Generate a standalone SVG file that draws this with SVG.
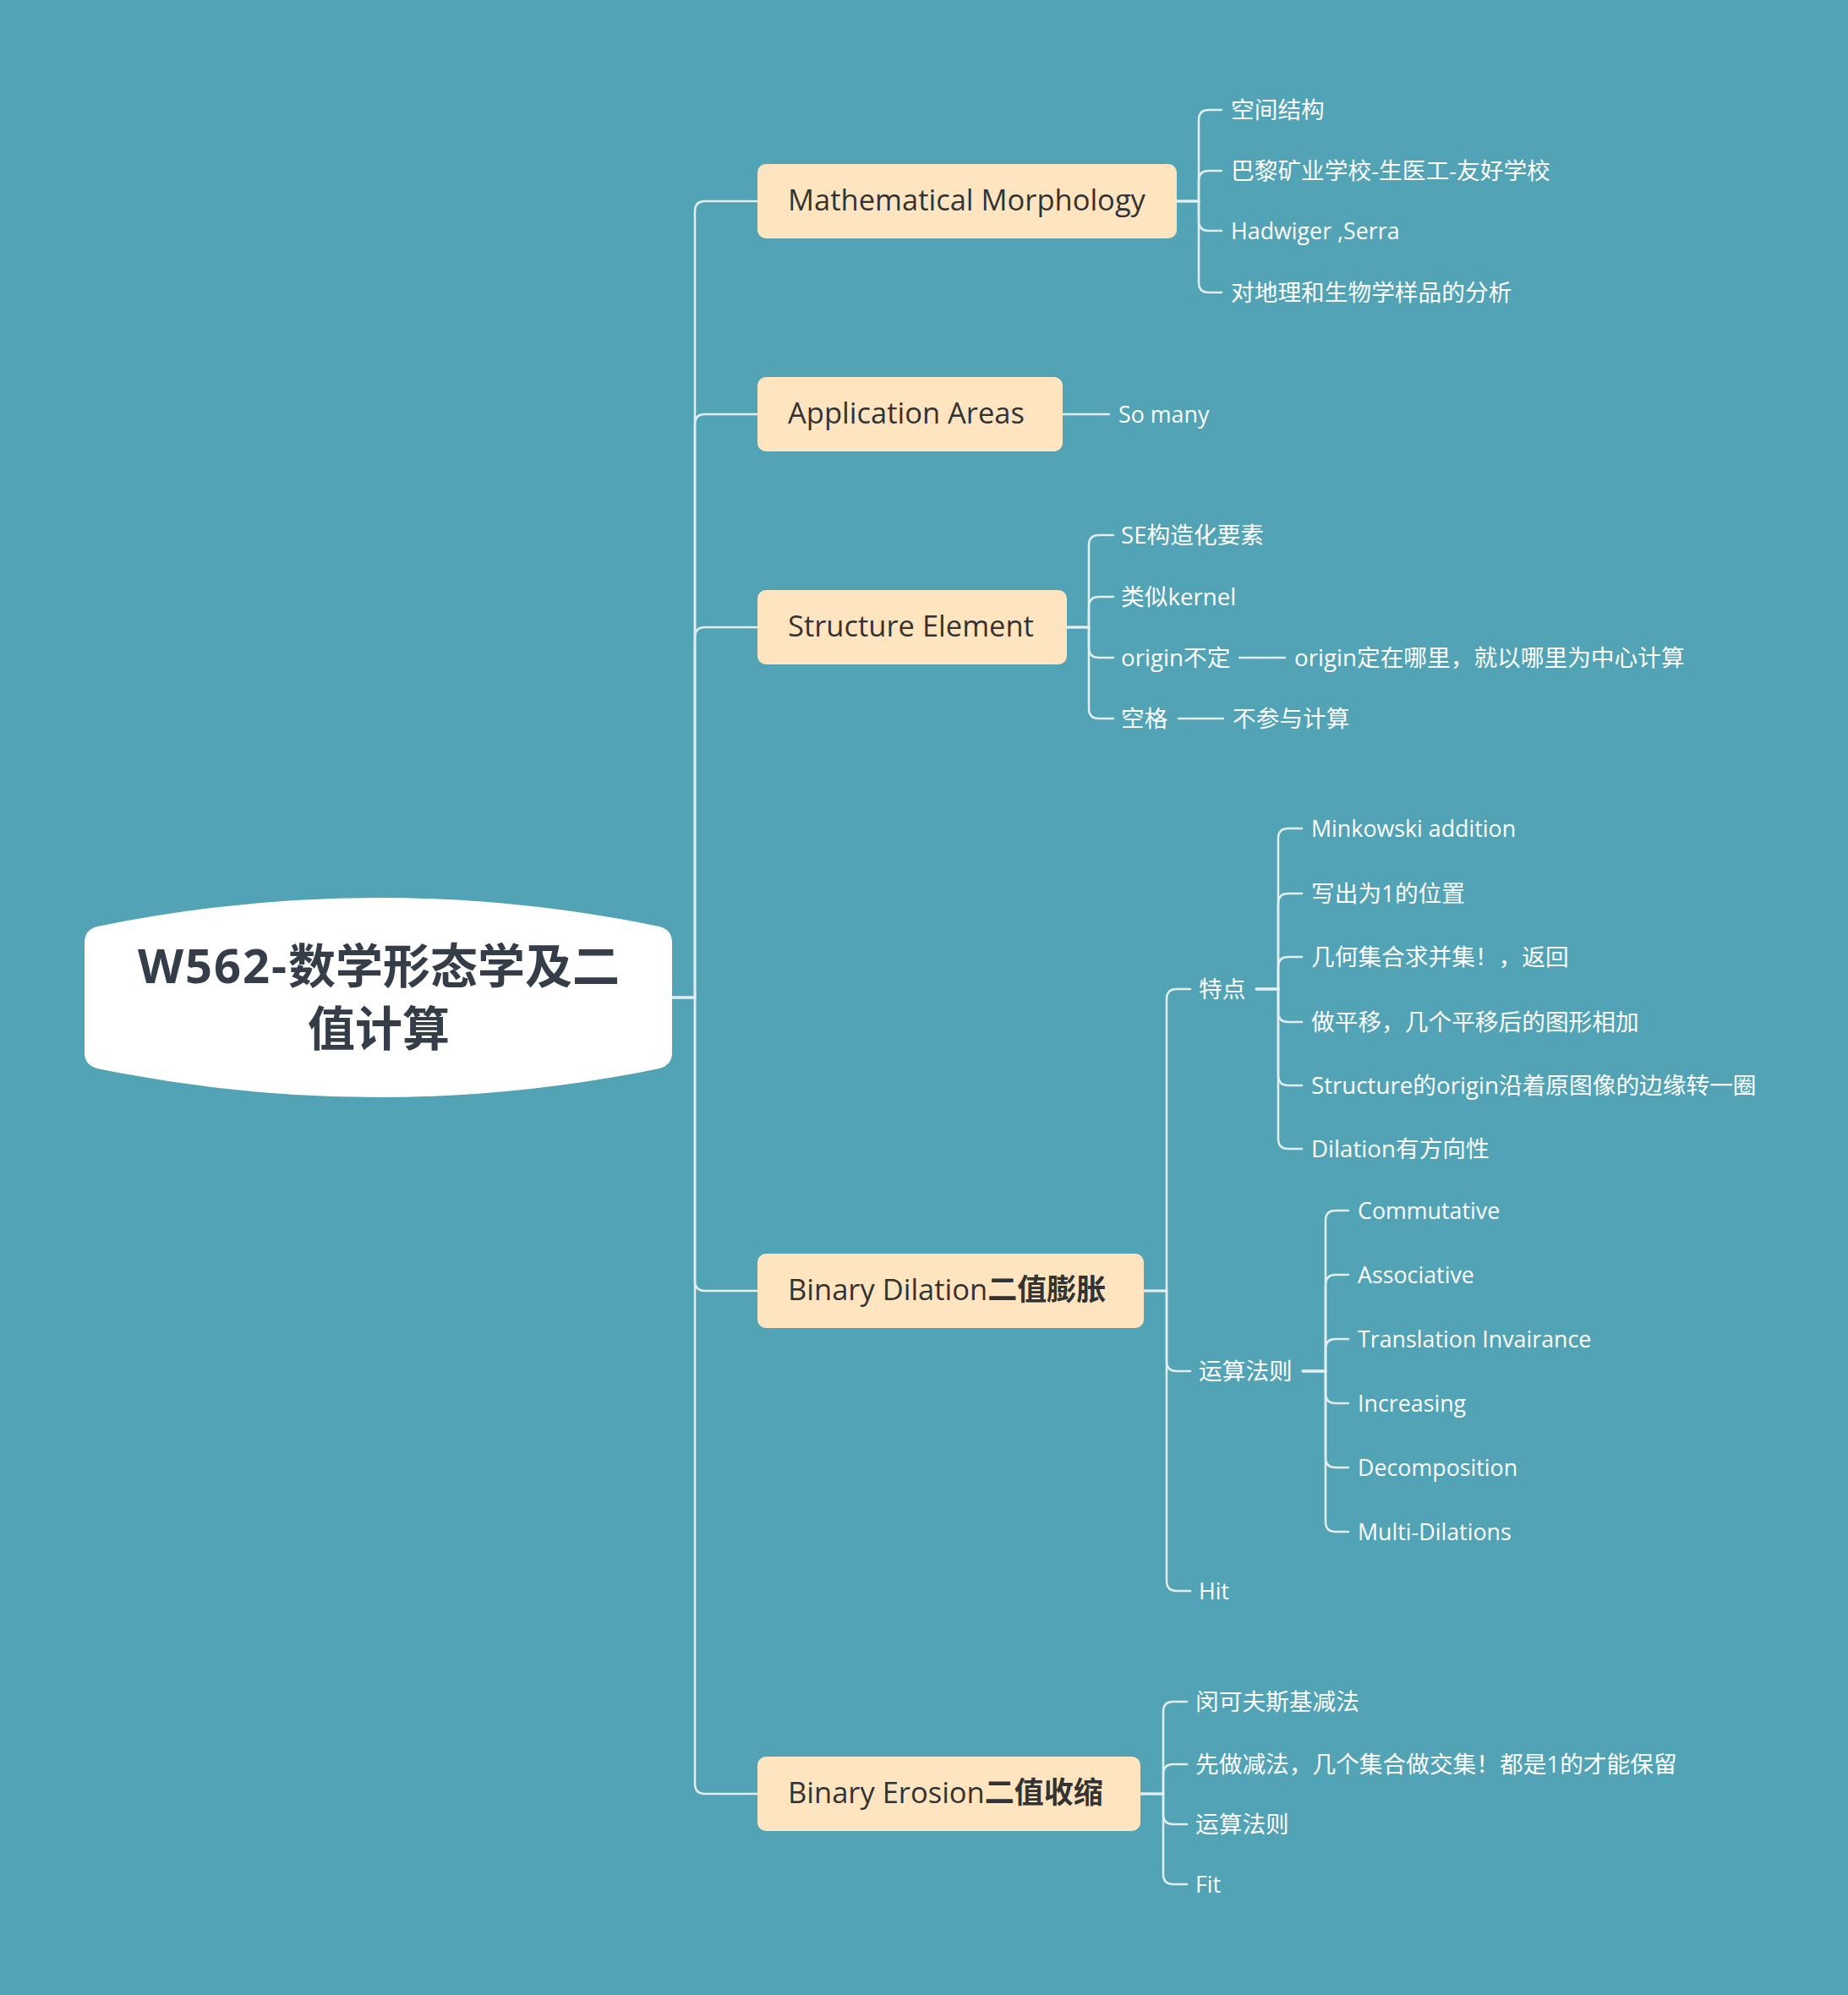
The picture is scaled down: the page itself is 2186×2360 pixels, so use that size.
<svg xmlns="http://www.w3.org/2000/svg" width="2186" height="2360" viewBox="0 0 2186 2360">
<style>
.bg{fill:#51A3B5}
.conn path{fill:none;stroke:#E4EEF1;stroke-width:2.5;stroke-linecap:round}
.node rect{fill:#FFE5BF}
.nt{font-family:"Open Sans","Noto Sans CJK SC",sans-serif;font-size:34.5px;fill:#333333}
.ct{font-family:"Open Sans","Noto Sans CJK SC",sans-serif;font-size:27.7px;fill:#FFFFFF}
.lat{font-size:26.8px}
.b{font-weight:bold;font-size:35px}
.root{font-family:"Open Sans","Noto Sans CJK SC",sans-serif;font-size:56px;font-weight:bold;fill:#343D48}
</style>
<rect class="bg" x="0" y="0" width="2186" height="2360"/>
<g id="connectors" class="conn">
<path d="M795 1180 H822 V250 Q822 238 834 238 H896"/>
<path d="M795 1180 H822 V502 Q822 490 834 490 H896"/>
<path d="M795 1180 H822 V754 Q822 742 834 742 H896"/>
<path d="M795 1180 H822 V1515 Q822 1527 834 1527 H896"/>
<path d="M795 1180 H822 V2110 Q822 2122 834 2122 H896"/>
<path d="M1392 238 H1418 V142 Q1418 130 1430 130 H1445"/>
<path d="M1392 238 H1418 V214 Q1418 202 1430 202 H1445"/>
<path d="M1392 238 H1418 V261 Q1418 273 1430 273 H1445"/>
<path d="M1392 238 H1418 V334 Q1418 346 1430 346 H1445"/>
<path d="M1257 490 H1312"/>
<path d="M1262 742 H1288 V645 Q1288 633 1300 633 H1317"/>
<path d="M1262 742 H1288 V718 Q1288 706 1300 706 H1317"/>
<path d="M1262 742 H1288 V766 Q1288 778 1300 778 H1317"/>
<path d="M1262 742 H1288 V838 Q1288 850 1300 850 H1317"/>
<path d="M1466 778 H1520"/>
<path d="M1394 850 H1447"/>
<path d="M1353 1527 H1380 V1182 Q1380 1170 1392 1170 H1408"/>
<path d="M1353 1527 H1380 V1610 Q1380 1622 1392 1622 H1408"/>
<path d="M1353 1527 H1380 V1870 Q1380 1882 1392 1882 H1408"/>
<path d="M1486 1170 H1512 V992 Q1512 980 1524 980 H1540"/>
<path d="M1486 1170 H1512 V1069 Q1512 1057 1524 1057 H1540"/>
<path d="M1486 1170 H1512 V1144 Q1512 1132 1524 1132 H1540"/>
<path d="M1486 1170 H1512 V1197 Q1512 1209 1524 1209 H1540"/>
<path d="M1486 1170 H1512 V1272 Q1512 1284 1524 1284 H1540"/>
<path d="M1486 1170 H1512 V1347 Q1512 1359 1524 1359 H1540"/>
<path d="M1541 1622 H1568 V1444 Q1568 1432 1580 1432 H1595"/>
<path d="M1541 1622 H1568 V1520 Q1568 1508 1580 1508 H1595"/>
<path d="M1541 1622 H1568 V1596 Q1568 1584 1580 1584 H1595"/>
<path d="M1541 1622 H1568 V1648 Q1568 1660 1580 1660 H1595"/>
<path d="M1541 1622 H1568 V1724 Q1568 1736 1580 1736 H1595"/>
<path d="M1541 1622 H1568 V1800 Q1568 1812 1580 1812 H1595"/>
<path d="M1349 2122 H1376 V2025 Q1376 2013 1388 2013 H1404"/>
<path d="M1349 2122 H1376 V2099 Q1376 2087 1388 2087 H1404"/>
<path d="M1349 2122 H1376 V2146 Q1376 2158 1388 2158 H1404"/>
<path d="M1349 2122 H1376 V2217 Q1376 2229 1388 2229 H1404"/>
</g>
<g id="root">
<path d="M100 1115 Q100 1100 115 1096 Q448 1028 780 1096 Q795 1100 795 1115 V1245 Q795 1260 780 1264 Q448 1332 115 1264 Q100 1260 100 1245 Z" fill="#FFFFFF"/>
<text class="root" x="448" y="1163" text-anchor="middle"><tspan letter-spacing="2">W562-</tspan>数学形态学及二</text>
<text class="root" x="448" y="1237" text-anchor="middle">值计算</text>
</g>
<g id="n-mm" class="node"><rect x="896" y="194" width="496" height="88" rx="10"/><text class="nt" x="932" y="249">Mathematical Morphology</text></g>
<g id="n-aa" class="node"><rect x="896" y="446" width="361" height="88" rx="10"/><text class="nt" x="932" y="501">Application Areas</text></g>
<g id="n-se" class="node"><rect x="896" y="698" width="366" height="88" rx="10"/><text class="nt" x="932" y="753">Structure Element</text></g>
<g id="n-bd" class="node"><rect x="896" y="1483" width="457" height="88" rx="10"/><text class="nt" x="932" y="1538">Binary Dilation<tspan class="b">二值膨胀</tspan></text></g>
<g id="n-be" class="node"><rect x="896" y="2078" width="453" height="88" rx="10"/><text class="nt" x="932" y="2133">Binary Erosion<tspan class="b">二值收缩</tspan></text></g>
<g id="mm-children">
<text class="ct" x="1456" y="140">空间结构</text>
<text class="ct" x="1456" y="212">巴黎矿业学校-生医工-友好学校</text>
<text class="ct lat" x="1456" y="283">Hadwiger ,Serra</text>
<text class="ct" x="1456" y="356">对地理和生物学样品的分析</text>
</g>
<g id="aa-children"><text class="ct lat" x="1323" y="500">So many</text></g>
<g id="se-children">
<text class="ct" x="1326" y="643">SE构造化要素</text>
<text class="ct" x="1326" y="716">类似kernel</text>
<text class="ct" x="1326" y="788">origin不定</text>
<text class="ct" x="1531" y="788">origin定在哪里，就以哪里为中心计算</text>
<text class="ct" x="1326" y="860">空格</text>
<text class="ct" x="1458" y="860">不参与计算</text>
</g>
<g id="bd-children">
<text class="ct" x="1418" y="1180">特点</text>
<text class="ct" x="1418" y="1632">运算法则</text>
<text class="ct lat" x="1418" y="1892">Hit</text>
</g>
<g id="td-children">
<text class="ct lat" x="1551" y="990">Minkowski addition</text>
<text class="ct" x="1551" y="1067">写出为1的位置</text>
<text class="ct" x="1551" y="1142">几何集合求并集！，返回</text>
<text class="ct" x="1551" y="1219">做平移，几个平移后的图形相加</text>
<text class="ct" x="1551" y="1294">Structure的origin沿着原图像的边缘转一圈</text>
<text class="ct" x="1551" y="1369">Dilation有方向性</text>
</g>
<g id="rule-children">
<text class="ct lat" x="1606" y="1442">Commutative</text>
<text class="ct lat" x="1606" y="1518">Associative</text>
<text class="ct lat" x="1606" y="1594">Translation Invairance</text>
<text class="ct lat" x="1606" y="1670">Increasing</text>
<text class="ct lat" x="1606" y="1746">Decomposition</text>
<text class="ct lat" x="1606" y="1822">Multi-Dilations</text>
</g>
<g id="be-children">
<text class="ct" x="1414" y="2023">闵可夫斯基减法</text>
<text class="ct" x="1414" y="2097">先做减法，几个集合做交集！都是1的才能保留</text>
<text class="ct" x="1414" y="2168">运算法则</text>
<text class="ct lat" x="1414" y="2239">Fit</text>
</g>
</svg>
